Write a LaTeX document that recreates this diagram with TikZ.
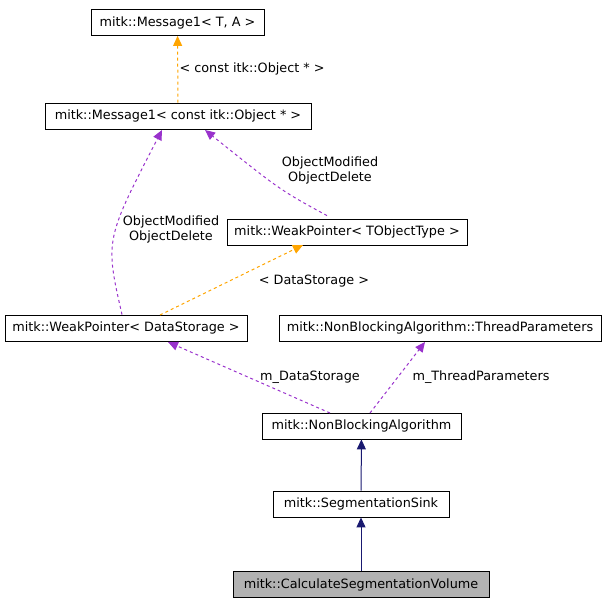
\documentclass[tikz,border=0pt]{standalone}
\usepackage{fontspec}
\setmainfont{DejaVu Sans}
\usetikzlibrary{arrows.meta}
\definecolor{edgeorange}{RGB}{255,165,0}
\definecolor{edgepurple}{RGB}{153,50,204}
\definecolor{edgenavy}{RGB}{25,25,112}
\tikzset{
  cls/.style={draw, fill=white, line width=0.8pt, minimum height=26pt, inner xsep=2pt, font=\fontsize{12.8}{15}\selectfont},
  tmpl/.style={draw=edgeorange, line width=1pt, dashed, -{Triangle[width=9pt,length=10pt]}},
  use/.style={draw=edgepurple, line width=1pt, dashed, -{Triangle[width=9pt,length=10pt]}},
  inh/.style={draw=edgenavy, line width=1pt, -{Triangle[width=9pt,length=10pt]}},
  lbl/.style={font=\fontsize{12.8}{15}\selectfont, align=center}
}
\begin{document}
\begin{tikzpicture}[x=1pt, y=-1pt]
\useasboundingbox (0,0) rectangle (605,605);

% Klassen
\node[cls, minimum width=173pt] (msgta) at (177.5,22.5) {mitk::Message1< T, A >};
\node[cls, minimum width=266pt] (msgobj) at (178,116) {mitk::Message1< const itk::Object * >};
\node[cls, minimum width=240pt] (wpt) at (347,232) {mitk::WeakPointer< TObjectType >};
\node[cls, minimum width=242pt] (wpds) at (126,328) {mitk::WeakPointer< DataStorage >};
\node[cls, minimum width=322pt] (tparams) at (440,328) {mitk::NonBlockingAlgorithm::ThreadParameters};
\node[cls, minimum width=199pt] (nba) at (361.5,426) {mitk::NonBlockingAlgorithm};
\node[cls, minimum width=176pt] (sink) at (361,504) {mitk::SegmentationSink};
\node[cls, minimum width=256pt, fill=black!30] (volume) at (361,584.5) {mitk::CalculateSegmentationVolume};

% Kanten
\draw[tmpl] (msgobj) -- (msgta) node[lbl, midway, right=-2pt] {< const itk::Object * >};
\draw[use] (wpt.north) ++(-20,-3) .. controls (280,190) .. (205,130);
\node[lbl] at (330,170) {ObjectModified\\ObjectDelete};
\draw[use] (wpds.north) ++(-4,0) .. controls (105,240) .. (162,130);
\node[lbl] at (171,229) {ObjectModified\\ObjectDelete};
\draw[tmpl] (160,315) -- (303,245);
\node[lbl] at (314,281) {< DataStorage >};
\draw[use] (330,413) -- (168,342);
\node[lbl] at (310,377) {m\_DataStorage};
\draw[use] (370,413) -- (425,342);
\node[lbl] at (481,377) {m\_ThreadParameters};
\draw[inh] (sink) -- (nba);
\draw[inh] (volume) -- (sink);
\end{tikzpicture}
\end{document}
